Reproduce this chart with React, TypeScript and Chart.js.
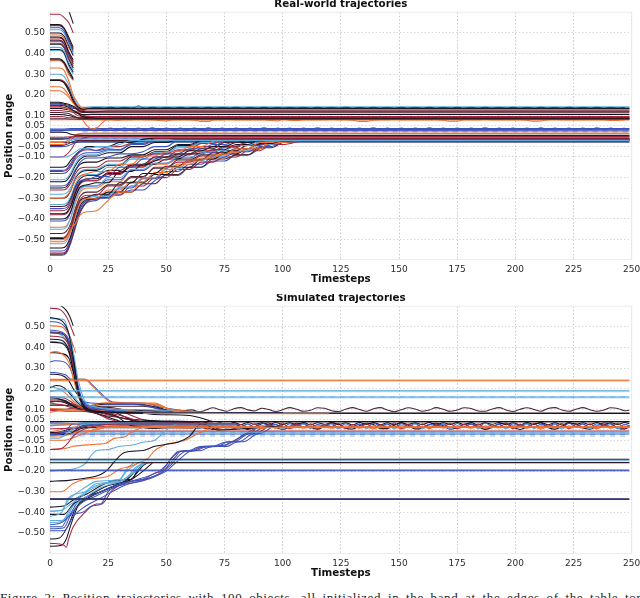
import React, { useEffect, useRef } from "react";
import { Chart, registerables } from "chart.js";

Chart.register(...registerables);

const COLORS: Record<string, string> = {
  k: "#15131f", r: "#a5293f", o: "#f2702f", s: "#5cacdd", b: "#3d52bd", p: "#4c2434", n: "#1c1f66",
};

const xTicks = [0, 25, 50, 75, 100, 125, 150, 175, 200, 225, 250];
const yTicks = [0.5, 0.4, 0.3, 0.2, 0.1, 0.05, 0, -0.05, -0.1, -0.2, -0.3, -0.4, -0.5];
const caption = "Figure 2: Position trajectories with 100 objects, all initialized in the band at the edges of the table top";

/* ---------- Real-world trajectories ---------- */
const realHighTimes = [0, 4, 6, 8, 10];
const realHighColors = "krkpbskokrpbrkskskpo";
const realHigh = [
  [.68, .68, .67, .61, .545], [.59, .59, .575, .55, .50], [.54, .54, .525, .48, .43], [.535, .535, .52, .47, .42],
  [.525, .525, .51, .46, .41], [.515, .515, .50, .45, .40], [.50, .50, .485, .44, .39], [.49, .49, .475, .43, .40],
  [.48, .48, .465, .41, .37], [.475, .475, .46, .405, .36], [.465, .465, .45, .40, .35], [.46, .46, .445, .39, .36],
  [.45, .45, .435, .38, .34], [.445, .445, .43, .375, .33], [.43, .43, .415, .36, .32], [.42, .42, .405, .35, .31],
  [.415, .415, .40, .34, .30], [.375, .375, .36, .32, .28], [.37, .37, .355, .31, .275], [.365, .365, .35, .30, .27],
];

const realMidTimes = [0, 4, 6, 8, 10, 12, 14, 18, 25, 249];
const realMidColors = "oskrkokpbkrokrpkrpo";
const realMid = [
  [.33, .33, .32, .27, .20, .16, .135, .13, .13, .13], [.30, .30, .29, .25, .19, .15, .14, .143, .143, .143],
  [.27, .27, .26, .23, .18, .145, .135, .136, .136, .136], [.275, .275, .265, .235, .18, .14, .125, .122, .122, .122],
  [.27, .27, .26, .22, .17, .14, .128, .136, .136, .136], [.22, .22, .21, .19, .16, .14, .13, .13, .13, .13],
  [.165, .165, .16, .155, .145, .13, .12, .118, .122, .122], [.16, .16, .155, .15, .14, .125, .115, .116, .116, .116],
  [.155, .155, .15, .145, .135, .135, .134, .136, .136, .136], [.15, .15, .148, .14, .125, .112, .105, .106, .106, .106],
  [.145, .145, .14, .135, .125, .115, .102, .096, .095, .095], [.14, .14, .138, .13, .12, .118, .118, .118, .119, .119],
  [.135, .135, .132, .128, .12, .11, .095, .09, .088, .088], [.125, .125, .122, .12, .115, .10, .096, .095, .095, .095],
  [.115, .115, .113, .11, .10, .09, .088, .088, .087, .087], [.105, .105, .104, .10, .095, .09, .088, .087, .087, .087],
  [.095, .095, .094, .09, .09, .088, .086, .083, .083, .083], [.085, .085, .085, .084, .084, .083, .083, .083, .083, .083],
  [.08, .08, .08, .08, .08, .08, .08, .079, .079, .079],
];
const realDip = [0, .24, 4, .24, 6, .23, 8, .20, 10, .165, 12, .125, 14, .08, 16, .05, 18, .035, 20, .04, 22, .06, 25, .085, 30, .09, 249, .09];

const realBandTimes = [0, 5, 7, 9, 11, 14, 20, 249];
const realBandColors = "bbbbkrobksopnrb";
const realBand = [
  [.03, .03, .03, .03, .03, .03, .03, .034], [.035, .035, .036, .037, .037, .037, .037, .037], [.028, .028, .028, .03, .03, .03, .03, .03],
  [.03, .03, .03, .03, .03, .03, .028, .026], [.02, .02, .018, .01, .006, .005, .005, .005], [-.005, -.005, -.004, -.002, -.002, -.002, -.002, -.002],
  [-.03, -.03, -.025, -.01, .008, .012, .015, .015], [-.015, -.015, -.012, -.01, -.008, -.008, -.008, -.008], [-.012, -.012, -.012, -.005, 0, .002, .002, .002],
  [-.025, -.025, -.024, -.02, -.015, -.014, -.014, -.014], [-.04, -.04, -.035, -.018, .004, .015, .015, .015], [-.045, -.045, -.04, -.03, -.022, -.02, -.02, -.02],
  [-.03, -.03, -.03, -.03, -.028, -.028, -.028, -.028], [-.1, -.1, -.09, -.065, -.03, -.01, 0, 0], [-.05, -.05, -.048, -.04, -.03, -.026, -.026, -.026],
];

const realRiseTimes = [0, 5, 7, 9, 11, 13, 16, 20, 25, 30, 35, 40, 45, 50, 55, 60, 65, 70, 75, 80, 85, 90, 95, 100, 110, 249];
const realRiseColors = "sbrkbsobkrpbskrsokbprkoskbrpbksrokspkrob";
const realRise = [
  [-.10, -.10, -.10, -.09, -.075, -.06, -.06, -.05, -.05, -.04, -.02, -.02, -.02, -.02, -.02, -.02, -.02, -.02, -.02, -.02, -.02, -.02, -.02, -.02, -.02, -.02],
  [-.165, -.165, -.16, -.13, -.09, -.07, -.06, -.07, -.06, -.065, -.04, -.04, -.02, -.02, -.02, -.02, -.02, -.02, -.02, -.02, -.02, -.02, -.02, -.02, -.02, -.02],
  [-.17, -.17, -.165, -.14, -.10, -.075, -.065, -.068, -.05, -.05, -.035, -.035, -.012, -.012, -.012, -.012, -.012, -.012, -.012, -.012, -.012, -.012, -.012, -.012, -.012, -.012],
  [-.15, -.15, -.145, -.115, -.09, -.07, -.05, -.05, -.05, -.03, -.03, -.015, -.01, -.01, -.01, -.01, -.01, -.01, -.01, -.01, -.01, -.01, -.01, -.01, -.01, -.01],
  [-.18, -.18, -.175, -.15, -.11, -.09, -.08, -.08, -.065, -.065, -.04, -.04, -.02, -.02, -.015, -.015, -.015, -.015, -.015, -.015, -.015, -.015, -.015, -.015, -.015, -.015],
  [-.21, -.21, -.205, -.175, -.13, -.10, -.09, -.09, -.07, -.07, -.03, -.03, -.02, -.02, -.02, -.02, -.02, -.02, -.02, -.02, -.02, -.02, -.02, -.02, -.02, -.02],
  [-.30, -.30, -.29, -.26, -.21, -.19, -.18, -.17, -.17, -.135, -.135, -.095, -.095, -.075, -.075, -.05, -.05, -.025, -.02, -.02, -.02, -.02, -.02, -.02, -.02, -.02],
  [-.24, -.24, -.235, -.205, -.16, -.125, -.105, -.105, -.10, -.085, -.085, -.075, -.05, -.05, -.02, -.02, -.02, -.02, -.02, -.02, -.02, -.02, -.02, -.02, -.02, -.02],
  [-.25, -.25, -.245, -.21, -.165, -.135, -.125, -.125, -.105, -.105, -.09, -.09, -.065, -.065, -.04, -.04, -.02, -.018, -.018, -.018, -.018, -.018, -.018, -.018, -.018, -.018],
  [-.26, -.26, -.255, -.225, -.18, -.155, -.15, -.15, -.12, -.12, -.095, -.095, -.085, -.085, -.065, -.065, -.035, -.035, -.018, -.018, -.018, -.018, -.018, -.018, -.018, -.018],
  [-.34, -.34, -.335, -.30, -.24, -.205, -.19, -.19, -.165, -.165, -.135, -.135, -.10, -.10, -.085, -.085, -.06, -.06, -.03, -.03, -.02, -.02, -.02, -.02, -.02, -.02],
  [-.35, -.35, -.345, -.31, -.25, -.215, -.21, -.195, -.195, -.15, -.15, -.11, -.11, -.085, -.085, -.06, -.06, -.04, -.04, -.022, -.022, -.022, -.022, -.022, -.022, -.022],
  [-.28, -.28, -.275, -.245, -.195, -.17, -.16, -.16, -.135, -.135, -.11, -.11, -.08, -.08, -.055, -.055, -.035, -.035, -.02, -.02, -.02, -.02, -.02, -.02, -.02, -.02],
  [-.375, -.375, -.37, -.335, -.27, -.225, -.205, -.205, -.18, -.18, -.14, -.14, -.12, -.10, -.10, -.07, -.07, -.05, -.05, -.03, -.03, -.02, -.02, -.02, -.02, -.02],
  [-.36, -.36, -.355, -.32, -.26, -.22, -.215, -.215, -.175, -.175, -.15, -.15, -.115, -.115, -.09, -.09, -.07, -.07, -.05, -.05, -.025, -.025, -.02, -.02, -.02, -.02],
  [-.45, -.45, -.44, -.39, -.31, -.26, -.24, -.24, -.20, -.20, -.16, -.16, -.13, -.13, -.10, -.10, -.085, -.07, -.07, -.045, -.045, -.025, -.025, -.02, -.02, -.02],
  [-.50, -.50, -.49, -.45, -.42, -.38, -.365, -.36, -.31, -.27, -.27, -.20, -.20, -.15, -.15, -.115, -.115, -.09, -.09, -.06, -.06, -.03, -.03, -.02, -.02, -.02],
  [-.40, -.40, -.395, -.36, -.29, -.245, -.235, -.225, -.225, -.17, -.17, -.135, -.135, -.11, -.11, -.085, -.085, -.065, -.065, -.04, -.04, -.022, -.022, -.02, -.02, -.02],
  [-.41, -.41, -.405, -.365, -.295, -.25, -.24, -.24, -.21, -.21, -.165, -.165, -.13, -.13, -.105, -.105, -.08, -.08, -.055, -.055, -.03, -.03, -.02, -.02, -.02, -.02],
  [-.47, -.47, -.46, -.42, -.345, -.29, -.27, -.27, -.235, -.235, -.195, -.195, -.155, -.155, -.115, -.115, -.09, -.09, -.07, -.07, -.04, -.04, -.02, -.02, -.02, -.02],
  [-.49, -.49, -.48, -.435, -.36, -.305, -.285, -.285, -.24, -.24, -.20, -.20, -.15, -.15, -.125, -.125, -.095, -.095, -.07, -.07, -.045, -.045, -.025, -.025, -.02, -.02],
  [-.495, -.495, -.485, -.44, -.365, -.31, -.295, -.28, -.28, -.225, -.225, -.18, -.18, -.145, -.145, -.115, -.115, -.08, -.08, -.06, -.06, -.035, -.035, -.02, -.02, -.02],
  [-.51, -.51, -.50, -.455, -.38, -.32, -.30, -.30, -.26, -.26, -.22, -.22, -.175, -.175, -.135, -.135, -.105, -.105, -.08, -.08, -.06, -.06, -.03, -.03, -.02, -.02],
  [-.52, -.52, -.51, -.46, -.385, -.325, -.30, -.29, -.29, -.245, -.245, -.20, -.20, -.16, -.16, -.12, -.12, -.095, -.095, -.07, -.07, -.04, -.04, -.022, -.02, -.02],
  [-.54, -.54, -.53, -.48, -.40, -.335, -.305, -.30, -.27, -.27, -.225, -.225, -.185, -.185, -.15, -.15, -.11, -.11, -.085, -.085, -.06, -.06, -.03, -.03, -.02, -.02],
  [-.555, -.555, -.545, -.49, -.41, -.345, -.31, -.30, -.30, -.25, -.25, -.205, -.205, -.17, -.17, -.135, -.135, -.10, -.10, -.075, -.075, -.05, -.05, -.024, -.02, -.02],
  [-.565, -.565, -.555, -.50, -.42, -.35, -.31, -.305, -.285, -.285, -.24, -.24, -.20, -.20, -.16, -.16, -.125, -.125, -.10, -.10, -.07, -.07, -.04, -.04, -.02, -.02],
  [-.57, -.57, -.56, -.505, -.43, -.36, -.315, -.30, -.295, -.27, -.27, -.23, -.23, -.185, -.185, -.15, -.15, -.11, -.11, -.09, -.09, -.055, -.055, -.03, -.02, -.02],
  [-.575, -.575, -.565, -.515, -.44, -.37, -.32, -.31, -.28, -.28, -.26, -.26, -.215, -.19, -.19, -.15, -.15, -.12, -.12, -.09, -.09, -.06, -.04, -.025, -.02, -.02],
  [-.22, -.22, -.215, -.185, -.14, -.11, -.095, -.095, -.08, -.08, -.05, -.05, -.03, -.03, -.015, -.015, -.015, -.015, -.015, -.015, -.015, -.015, -.015, -.015, -.015, -.015],
  [-.33, -.33, -.325, -.29, -.23, -.195, -.185, -.185, -.15, -.15, -.11, -.11, -.085, -.085, -.05, -.05, -.03, -.03, -.018, -.018, -.018, -.018, -.018, -.018, -.018, -.018],
  [-.38, -.38, -.375, -.34, -.275, -.23, -.215, -.215, -.185, -.185, -.145, -.145, -.10, -.10, -.07, -.07, -.05, -.05, -.025, -.025, -.02, -.02, -.02, -.02, -.02, -.02],
  [-.44, -.44, -.435, -.39, -.32, -.27, -.25, -.25, -.22, -.22, -.165, -.165, -.135, -.135, -.11, -.11, -.075, -.075, -.045, -.045, -.025, -.025, -.02, -.02, -.02, -.02],
  [-.30, -.30, -.295, -.26, -.20, -.175, -.165, -.165, -.14, -.14, -.10, -.10, -.075, -.075, -.045, -.045, -.03, -.03, -.02, -.02, -.02, -.02, -.02, -.02, -.02, -.02],
];

const realWhiteDashes = [.14, .126, .11, .10, .091];
const realPaleDashes = [.031, .022, -.011, -.022];

const realWaveTimes = [14, 17, 20, 23, 26, 29, 32, 35, 38, 41, 44, 47, 50, 53, 56, 59, 62, 65, 68, 71, 74, 77, 80, 83, 86, 89, 92, 95, 98, 100, 103, 106, 109, 112, 115, 118, 121, 124, 127, 130, 133, 136, 139, 142, 145, 148, 151, 154, 157, 160, 163, 166, 169, 172, 175, 178, 181, 184, 187, 190, 193, 196, 199, 202, 205, 208, 211, 214, 217, 220, 223, 226, 229, 232, 235, 238, 241, 244, 247];
const realWaveColors = "kob";
const realWaves = [
  [.14, .136, .14, .136, .141, .135, .14, .136, .146, .136, .141, .135, .14, .136, .141, .136, .14, .135, .141, .136, .14, .136, .141, .135, .14, .136, .141, .136, .14, .136, .14, .136, .14, .135, .141, .136, .14, .136, .141, .135, .14, .136, .141, .136, .14, .135, .141, .136, .14, .136, .141, .135, .14, .136, .141, .136, .14, .135, .141, .136, .14, .136, .141, .135, .14, .136, .141, .136, .14, .135, .141, .136, .14, .136, .141, .135, .14, .136, .14],
  [.082, .08, .082, .08, .08, .078, .08, .08, .082, .08, .08, .076, .074, .08, .08, .08, .078, .072, .072, .08, .08, .082, .08, .08, .08, .08, .08, .076, .074, .082, .078, .076, .08, .08, .08, .08, .082, .08, .08, .078, .072, .072, .078, .08, .08, .082, .08, .08, .08, .08, .08, .08, .078, .073, .073, .08, .08, .08, .082, .08, .08, .08, .08, .08, .078, .073, .074, .08, .082, .08, .08, .08, .08, .08, .08, .08, .076, .076, .08],
  [.04, .034, .04, .034, .04, .033, .04, .034, .04, .034, .041, .033, .04, .034, .04, .034, .04, .033, .041, .034, .04, .034, .04, .033, .04, .034, .041, .034, .04, .034, .04, .033, .04, .034, .041, .034, .04, .033, .04, .034, .04, .034, .041, .033, .04, .034, .04, .034, .04, .033, .041, .034, .04, .034, .04, .033, .04, .034, .041, .034, .04, .033, .04, .034, .04, .034, .041, .033, .04, .034, .04, .034, .04, .033, .041, .034, .04, .034, .04],
];

/* ---------- Simulated trajectories ---------- */
const simHighColors = "krosb";
const simHigh = [
  [0, .62, 5, .60, 7, .58, 8.5, .55, 10, .505], [0, .59, 4, .585, 7, .55, 9, .50, 10.5, .455], [0, .505, 5, .50, 8, .46, 10, .41, 11, .375],
  [0, .43, 6, .42, 8, .39, 10, .33, 11, .30], [0, .525, 4, .52, 7, .49, 9, .44, 10, .40],
];

const simDropColors = "kbspbrkksokbkskorkrkroopkor";
const simDrop = [
  [0, .545, 5, .53, 8, .47, 10, .35, 12, .20, 15, .11, 20, .09, 30, .085, 50, .08, 249, .08],
  [0, .485, 5, .475, 8, .44, 10, .35, 12, .22, 15, .12, 20, .10, 30, .09, 60, .08, 100, .08],
  [0, .54, 6, .535, 8, .47, 10, .38, 12, .25, 15, .14, 20, .11, 35, .09, 100, .08],
  [0, .475, 5, .47, 8, .42, 10, .33, 12, .19, 15, .11, 20, .08, 30, .06, 40, .04, 249, .04],
  [0, .47, 5, .465, 8, .43, 10, .33, 12, .20, 16, .12, 25, .10, 40, .085, 100, .08],
  [0, .455, 5, .45, 8, .41, 10, .31, 12, .20, 15, .12, 22, .09, 32, .065, 40, .04, 70, .04],
  [0, .44, 5, .435, 8, .39, 10, .30, 12, .19, 15, .12, 20, .09, 30, .085, 100, .08],
  [0, .425, 5, .42, 8, .38, 10, .29, 12, .18, 15, .10, 20, .085, 100, .08],
  [0, .475, 6, .45, 9, .38, 11, .25, 14, .14, 20, .11, 30, .10, 50, .095, 60, .08, 100, .08],
  [0, .375, 2, .38, 5, .37, 8, .33, 10, .25, 13, .14, 20, .11, 30, .10, 45, .08, 100, .08],
  [0, .375, 5, .37, 8, .35, 10, .28, 12, .20, 15, .11, 20, .09, 28, .07, 35, .02, 45, .01, 60, .015],
  [0, .33, 2, .335, 6, .33, 9, .29, 11, .22, 14, .14, 18, .13, 25, .125, 40, .12, 55, .08, 100, .08],
  [0, .27, 5, .265, 8, .24, 10, .20, 12, .17, 15, .12, 22, .11, 30, .075, 38, .035, 45, .03, 70, .03],
  [0, .21, 4, .20, 8, .19, 11, .15, 14, .12, 25, .10, 50, .08, 100, .08],
  [0, .205, 3, .215, 6, .205, 9, .17, 12, .13, 18, .10, 28, .10, 60, .08, 100, .08],
  [0, .185, 4, .195, 7, .175, 10, .14, 14, .11, 24, .13, 45, .13, 52, .095, 70, .08, 80, .08],
  [0, .16, 6, .155, 10, .13, 14, .10, 20, .085, 30, .06, 40, .04, 70, .04],
  [0, .15, 3, .15, 8, .13, 12, .105, 18, .095, 24, .08, 32, .055, 60, .04],
  [0, .14, 4, .14, 10, .12, 18, .09, 26, .05, 36, .03, 70, .03],
  [0, .135, 4, .14, 9, .12, 14, .115, 24, .125, 36, .125, 46, .11, 54, .085, 100, .08],
  [0, .13, 6, .12, 12, .10, 20, .10, 30, .09, 40, .05, 70, .03],
  [0, .105, 8, .10, 15, .10, 22, .13, 42, .128, 52, .10, 60, .09, 72, .08],
  [0, .085, 6, .095, 14, .095, 30, .09, 50, .085, 70, .08, 100, .08],
  [0, .10, 6, .10, 14, .115, 24, .115, 40, .115, 48, .10, 60, .085, 100, .08],
  [0, .12, 5, .12, 10, .115, 16, .11, 24, .11, 35, .09, 45, .075, 60, .07, 70, .04],
  [0, .245, 9, .245, 11, .245, 15, .245, 18, .215, 22, .17, 27, .13, 45, .125, 55, .085, 70, .08],
  [0, .095, 10, .09, 20, .09, 40, .085, 100, .08],
];
const simBlueKink = [0, .28, 4, .275, 7, .265, 9, .245, 15, .245, 19, .21, 23, .165, 27, .135, 40, .13, 48, .11, 60, .09, 75, .08];

const simLowColors = "rosksboooksbrbsobk";
const simLow = [
  [0, -.095, 5, -.09, 8, -.06, 10, -.03, 14, 0, 20, .02, 35, .03, 80, .03],
  [0, -.095, 6, -.092, 10, -.08, 20, -.07, 24, -.065, 28, -.04, 32, -.035, 35, -.01, 45, .02, 80, .02],
  [0, -.20, 6, -.195, 10, -.19, 15, -.165, 18, -.12, 20, -.10, 25, -.095, 30, -.08, 35, -.075, 40, -.06, 45, -.05, 50, 0, 55, .03, 80, .03],
  [0, -.25, 8, -.245, 15, -.235, 22, -.215, 25, -.19, 28, -.15, 32, -.11, 40, -.10, 45, -.08, 50, -.07, 55, -.06, 60, -.03, 65, .03, 68, .02, 72, 0, 100, .02],
  [0, -.04, 4, -.04, 8, -.01, 12, .02, 18, .03, 80, .03],
  [0, -.02, 4, -.02, 9, 0, 15, .02, 25, .03, 80, .025],
  [0, -.30, 5, -.30, 10, -.26, 15, -.24, 25, -.225, 30, -.19, 35, -.175, 38, -.16, 42, -.14, 45, -.10, 50, -.07, 58, -.05, 65, -.01, 72, .01, 249, .012],
  [0, -.05, 6, -.05, 12, -.03, 22, .01, 40, .015, 249, .015],
  [0, -.03, 5, -.03, 12, -.01, 20, 0, 30, .03, 70, .03],
  [0, -.012, 8, -.02, 14, .02, 30, .03, 70, .03],
  [0, .03, 10, .03, 15, .035, 70, .03],
  [0, -.02, 6, -.01, 10, .03, 25, .035, 70, .03],
  [0, -.015, 5, -.012, 10, -.005, 249, -.005],
  [0, .035, 12, .03, 40, .025, 70, .02],
  [0, -.01, 249, -.012],
  [0, .02, 5, .025, 15, .03, 22, .035, 70, .028],
  [0, -.02, 249, -.02],
  [0, -.025, 8, -.02, 15, .01, 70, .01],
];

const simFanColors = "sssbbbbrkkkssk";
const simFan = [
  [0, -.42, 5, -.40, 8, -.33, 15, -.30, 20, -.26, 30, -.25, 35, -.21, 40, -.165, 44, -.16],
  [0, -.395, 5, -.39, 8, -.34, 15, -.28, 20, -.25, 30, -.24, 33, -.20, 38, -.16],
  [0, -.45, 5, -.445, 9, -.38, 15, -.33, 22, -.28, 30, -.25, 36, -.21, 41, -.16],
  [0, -.46, 4, -.455, 8, -.42, 12, -.35, 20, -.31, 30, -.26, 40, -.24, 50, -.20, 53, -.17, 57, -.13, 60, -.105, 65, -.10, 68, -.085, 72, -.08, 76, -.08, 80, -.06, 84, -.055, 88, -.025, 92, -.01, 95, .01],
  [0, -.48, 6, -.475, 9, -.41, 13, -.36, 20, -.32, 30, -.27, 40, -.245, 48, -.205, 52, -.17, 55, -.13, 58, -.105, 63, -.10, 66, -.085, 70, -.08, 74, -.08, 78, -.06, 82, -.055, 86, -.025, 90, -.01, 93, .01],
  [0, -.49, 6, -.49, 10, -.42, 14, -.38, 22, -.33, 32, -.27, 42, -.24, 49, -.20, 51, -.17, 54, -.13, 56, -.105, 61, -.10, 64, -.085, 68, -.08, 72, -.08, 76, -.06, 80, -.055, 84, -.025, 88, -.01, 91, .01],
  [0, -.47, 5, -.47, 8, -.42, 14, -.40, 18, -.37, 22, -.36, 25, -.30, 32, -.26, 47, -.20, 50, -.17, 53, -.125, 55, -.105, 60, -.10, 63, -.085, 66, -.08, 70, -.08, 75, -.06, 79, -.055, 83, -.025, 87, -.01, 89, .015],
  [0, -.55, 6, -.56, 7, -.57, 8, -.53, 10, -.47, 15, -.40, 20, -.36, 22, -.36, 27, -.29, 35, -.25, 40, -.24, 45, -.21, 48, -.20, 52, -.14, 56, -.105, 62, -.10, 65, -.085, 70, -.08, 75, -.075, 78, -.06, 84, -.02, 90, .02],
  [0, -.565, 5, -.56, 7, -.53, 9, -.46, 12, -.37, 15, -.34, 20, -.31, 28, -.27, 35, -.24, 40, -.20, 44, -.16],
  [0, -.53, 4, -.525, 8, -.46, 11, -.38, 15, -.33, 22, -.30, 30, -.26, 35, -.24, 38, -.20, 41, -.16],
  [0, -.41, 6, -.41, 10, -.36, 15, -.33, 25, -.27, 32, -.25, 36, -.21, 40, -.17],
  [0, -.44, 5, -.44, 8, -.41, 11, -.34, 16, -.30, 24, -.26, 32, -.25, 36, -.19, 40, -.16],
  [0, -.395, 5, -.39, 9, -.36, 13, -.33, 18, -.28, 25, -.255, 30, -.24, 33, -.19, 36, -.16],
  [0, -.375, 6, -.37, 10, -.34, 16, -.31, 22, -.27, 28, -.245, 35, -.24, 38, -.19, 42, -.16],
];

const simFlatColors = "ossokrokkskbbnbkr";
const simFlat = [
  [0, .238, 249, .238], [0, .19, 249, .19], [0, .16, 249, .16], [40, .08, 120, .078], [30, .082, 249, .08], [60, .079, 249, .079],
  [20, .012, 249, .012], [0, .04, 249, .04], [0, -.143, 249, -.143], [0, -.15, 249, -.15], [0, -.16, 249, -.16],
  [0, -.195, 249, -.195], [0, -.198, 249, -.198], [0, -.335, 249, -.335], [0, -.338, 249, -.338], [0, -.337, 30, -.336], [40, -.158, 249, -.158],
];
const simHaloColors = "oss";
const simHalo = [.241, .188, .157];
const simDashed = [.16, -.012, -.022, -.03, -.198];

const simWaveTimes = [61, 64, 67, 70, 73, 76, 79, 82, 85, 88, 91, 94, 97, 100, 103, 106, 109, 112, 115, 118, 121, 124, 127, 130, 133, 136, 139, 142, 145, 148, 151, 154, 157, 160, 163, 166, 169, 172, 175, 178, 181, 184, 187, 190, 193, 196, 199, 202, 205, 208, 211, 214, 217, 220, 223, 226, 229, 232, 235, 238, 241, 244, 247, 249];
const simWaveColors = "pbrskok";
const simWaveHeads = [
  [0, .14, 8, .13, 14, .11, 24, .10, 40, .095, 55, .09],
  [0, .03, 12, .028, 30, .03, 50, .025],
  [0, .005, 15, .01, 30, .02, 50, .02],
  [0, .02, 20, .03, 45, .025],
  [0, .16, 7, .14, 12, .10, 20, .08, 28, .05, 36, .02, 44, .008, 55, .02],
  [0, -.01, 15, .02, 45, .01],
  [0, -.02, 12, .01, 25, .03, 55, .035],
];
const simWaves = [
  [.097, .088, .096, .107, .098, .09, .103, .108, .097, .092, .105, .099, .089, .098, .108, .1, .09, .095, .107, .105, .093, .089, .1, .108, .099, .09, .102, .108, .096, .088, .098, .107, .101, .09, .097, .108, .1, .09, .096, .107, .104, .092, .09, .101, .108, .097, .089, .1, .107, .099, .09, .104, .108, .097, .09, .1, .108, .098, .09, .096, .107, .104, .093, .095],
  [.028, .012, .03, .018, .032, .01, .028, .016, .03, .012, .033, .02, .027, .01, .03, .02, .032, .012, .026, .018, .031, .01, .03, .016, .028, .013, .032, .019, .029, .01, .03, .017, .032, .012, .027, .02, .03, .01, .031, .016, .028, .014, .033, .018, .028, .011, .03, .02, .032, .012, .027, .017, .03, .01, .032, .018, .029, .012, .03, .019, .032, .01, .027, .02],
  [.012, .03, .008, .026, .014, .032, .006, .026, .012, .03, .01, .025, .013, .033, .006, .028, .012, .03, .008, .024, .015, .032, .007, .026, .011, .03, .01, .025, .013, .033, .006, .027, .012, .03, .009, .025, .015, .032, .007, .027, .012, .03, .01, .024, .014, .033, .006, .028, .011, .03, .009, .025, .014, .032, .007, .026, .012, .03, .009, .025, .015, .032, .007, .02],
  [.02, .006, .024, .012, .026, .004, .02, .012, .028, .006, .022, .01, .026, .004, .02, .014, .028, .006, .022, .01, .025, .005, .02, .013, .028, .006, .021, .01, .026, .004, .022, .012, .027, .006, .02, .011, .026, .004, .021, .014, .028, .006, .02, .01, .025, .005, .022, .012, .028, .006, .021, .01, .026, .004, .02, .013, .027, .006, .022, .01, .025, .005, .02, .012],
  [.03, .034, .015, .002, .012, .03, .032, .014, .002, .014, .03, .033, .012, .002, .015, .032, .03, .01, .003, .018, .033, .028, .008, .004, .02, .032, .026, .006, .006, .024, .033, .022, .004, .008, .026, .032, .02, .003, .01, .028, .03, .016, .002, .012, .03, .032, .014, .002, .014, .03, .033, .012, .003, .016, .032, .03, .01, .003, .018, .033, .028, .008, .004, .02],
  [.008, .014, .006, .016, .008, .018, .004, .014, .01, .016, .005, .015, .008, .018, .006, .014, .009, .017, .004, .015, .008, .016, .006, .018, .008, .014, .005, .016, .01, .017, .004, .014, .008, .016, .006, .018, .009, .015, .005, .016, .008, .017, .005, .014, .01, .016, .006, .018, .008, .015, .004, .016, .009, .017, .006, .014, .008, .016, .005, .018, .008, .014, .006, .012],
  [.036, .025, .036, .026, .035, .024, .036, .025, .036, .027, .035, .024, .036, .026, .035, .025, .036, .024, .035, .027, .036, .025, .035, .024, .036, .026, .036, .025, .035, .024, .036, .027, .035, .025, .036, .024, .035, .026, .036, .025, .036, .024, .035, .027, .036, .025, .035, .024, .036, .026, .036, .025, .035, .024, .036, .027, .035, .025, .036, .024, .035, .026, .036, .03],
];

/* ---------- Helpers that turn the lists into datasets ---------- */
type Pt = { x: number; y: number };
const zip = (times: number[], values: number[]): Pt[] => values.map((y, i) => ({ x: times[i], y }));
const pairs = (flat: number[]): Pt[] => {
  const out: Pt[] = [];
  for (let i = 0; i < flat.length; i += 2) out.push({ x: flat[i], y: flat[i + 1] });
  return out;
};
const line = (data: Pt[], color: string, extra: Record<string, unknown> = {}) => ({
  data, borderColor: color, borderWidth: 1.05, pointRadius: 0, fill: false, cubicInterpolationMode: "monotone", ...extra,
});
const paint = (key: string, i: number) => COLORS[key[i % key.length]];
const dash = (y: number, from: number, color: string, w = 1) =>
  line([{ x: from, y }, { x: 249, y }], color, { borderDash: [5, 5], borderWidth: w });

const realDatasets = () => [
  ...realMid.map((v, i) => line(zip(realMidTimes, v), paint(realMidColors, i))),
  line(pairs(realDip), COLORS.o),
  ...realRise.map((v, i) => line(zip(realRiseTimes, v), paint(realRiseColors, i))),
  ...realBand.map((v, i) => line(zip(realBandTimes, v), paint(realBandColors, i))),
  ...realWaves.map((v, i) => line(zip(realWaveTimes, v), paint(realWaveColors, i))),
  ...realHigh.map((v, i) => line(zip(realHighTimes, v), paint(realHighColors, i))),
  ...realWhiteDashes.map((y) => dash(y, 14, "rgba(255,255,255,0.9)", 1.5)),
  ...realPaleDashes.map((y) => dash(y, 14, "rgba(170,200,235,0.9)", 1.3)),
];

const simDatasets = () => [
  ...simHalo.map((y, i) => line([{ x: 0, y }, { x: 249, y }], paint(simHaloColors, i), { borderWidth: 2.2, borderColor: paint(simHaloColors, i) + "66" })),
  ...simFlat.map((v, i) => line(pairs(v), paint(simFlatColors, i))),
  ...simLow.map((v, i) => line(pairs(v), paint(simLowColors, i))),
  ...simDrop.map((v, i) => line(pairs(v), paint(simDropColors, i))),
  ...simWaves.map((v, i) => line([...pairs(simWaveHeads[i]), ...zip(simWaveTimes, v)], paint(simWaveColors, i))),
  line(pairs(simBlueKink), COLORS.b),
  ...simFan.map((v, i) => line(pairs(v), paint(simFanColors, i))),
  ...simHigh.map((v, i) => line(pairs(v), paint(simHighColors, i))),
  ...simDashed.map((y) => dash(y, 0, "rgba(120,170,225,0.75)")),
];

const frame = {
  id: "frame",
  beforeDatasetsDraw(chart: any) {
    const { ctx, chartArea: a } = chart;
    ctx.save();
    ctx.strokeStyle = "#ececec";
    ctx.lineWidth = 1;
    ctx.strokeRect(a.left, a.top, a.right - a.left, a.bottom - a.top);
    ctx.restore();
  },
};

const TEXT = "#2a2a2a";
const FONT = "'DejaVu Sans'";

function Panel({ top, title, datasets, yMin, yMax }: { top: number; title: string; datasets: () => any[]; yMin: number; yMax: number }) {
  const ref = useRef<HTMLCanvasElement>(null);
  useEffect(() => {
    const chart = new Chart(ref.current!, {
      type: "line",
      data: { datasets: datasets() },
      plugins: [frame],
      options: {
        animation: false,
        responsive: false,
        devicePixelRatio: 1,
        layout: { padding: { right: 8.3, left: 0, top: 0, bottom: 0 } },
        plugins: {
          legend: { display: false },
          tooltip: { enabled: false },
          title: {
            display: true, text: title, fullSize: false, color: "#111",
            font: { family: FONT, size: 10.3, weight: "bold", lineHeight: 0.8 },
            padding: { top: 0, bottom: 4 },
          },
        },
        scales: {
          x: {
            type: "linear", min: 0, max: 250,
            afterBuildTicks: (s: any) => { s.ticks = xTicks.map((value) => ({ value })); },
            afterFit: (s: any) => { s.height = 30.5; s.paddingLeft = 0; s.paddingRight = 0; },
            grid: { color: "#c8c8c8", lineWidth: 1, drawTicks: false },
            border: { display: false, dash: [1.5, 2] },
            ticks: { color: TEXT, font: { family: FONT, size: 9 }, padding: 5, maxRotation: 0, autoSkip: false, callback: (v: any) => String(v) },
            title: { display: true, text: "Timesteps", color: "#111", font: { family: FONT, size: 10.3, weight: "bold", lineHeight: 1 }, padding: { top: 0, bottom: 6 } },
          },
          y: {
            type: "linear", min: yMin, max: yMax,
            afterBuildTicks: (s: any) => { s.ticks = yTicks.map((value) => ({ value })); },
            afterFit: (s: any) => { s.width = 50; },
            grid: { color: "#d8d8d8", lineWidth: 1, drawTicks: false },
            border: { display: false, dash: [1.5, 2] },
            ticks: {
              color: TEXT, font: { family: FONT, size: 9 }, padding: 5, autoSkip: false,
              callback: (v: any) => Number(v).toFixed(2).replace("-", "\u2212"),
            },
            title: { display: true, text: "Position range", color: "#111", font: { family: FONT, size: 10.3, weight: "bold", lineHeight: 1 }, padding: { top: 4, bottom: 0 } },
          },
        },
      } as any,
    });
    return () => chart.destroy();
  }, []);
  return <canvas ref={ref} width={640} height={290} style={{ position: "absolute", left: 0, top, filter: "blur(0.35px)" }} />;
}

export default function App() {
  return (
    <div style={{ position: "fixed", left: 0, top: 0, width: 640, height: 598, overflow: "hidden", background: "#fff" }}>
      <Panel top={0} title="Real-world trajectories" datasets={realDatasets} yMin={-0.596} yMax={0.6} />
      <Panel top={294} title="Simulated trajectories" datasets={simDatasets} yMin={-0.6} yMax={0.6} />
      <div style={{ position: "absolute", left: 0, top: 590, width: 640, whiteSpace: "nowrap", fontFamily: "'Liberation Serif'", fontSize: 13, lineHeight: "15px", color: "#222", letterSpacing: 0.6, wordSpacing: 3 }}>
        {caption}
      </div>
    </div>
  );
}
